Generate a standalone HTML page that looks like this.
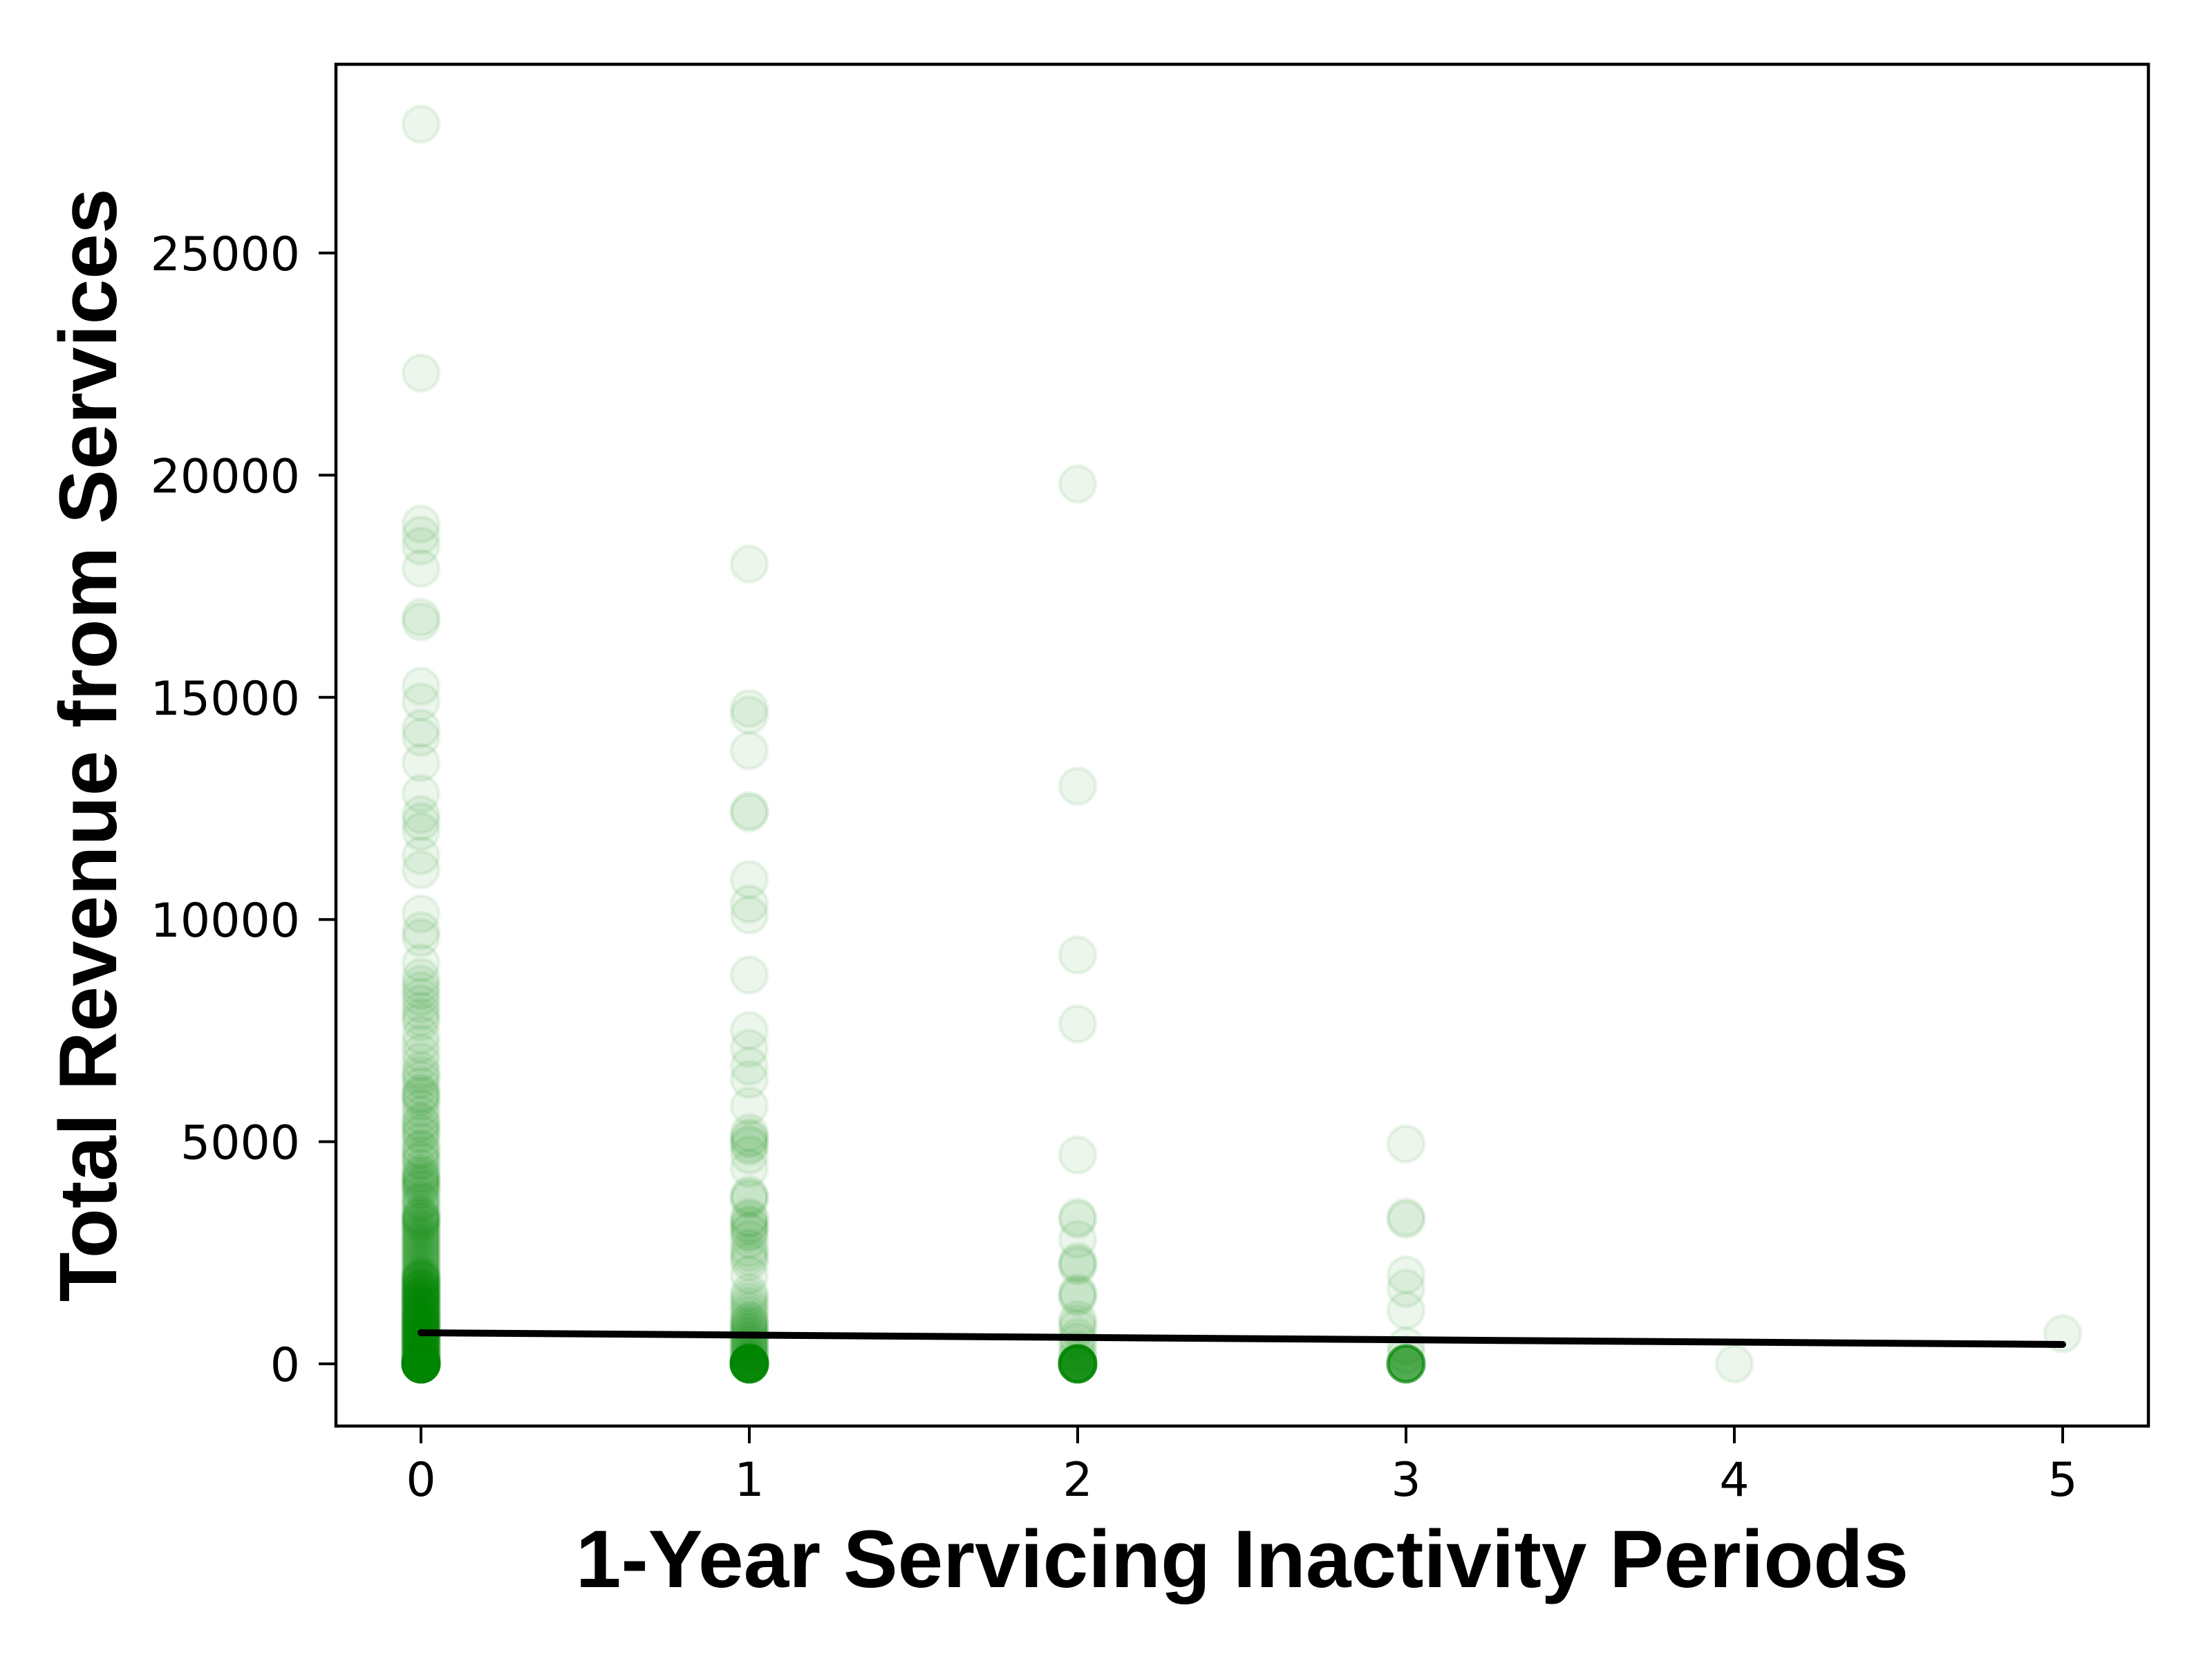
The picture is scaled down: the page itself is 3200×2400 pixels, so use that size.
<!DOCTYPE html>
<html><head><meta charset="utf-8"><style>
html,body{margin:0;padding:0;background:#fff;}
svg{display:block;}
</style></head><body>
<svg id="chart" width="3200" height="2400" viewBox="0 0 3200 2400" xmlns="http://www.w3.org/2000/svg">
<rect width="3200" height="2400" fill="#fff"/>
<g id="points"></g>
<g id="fit"></g>
<rect x="486" y="93" width="2622" height="1970" fill="none" stroke="#000" stroke-width="4.5"/>
<g id="xticks"></g>
<g id="yticks"></g>
<text x="1797" y="2296" text-anchor="middle" font-family="Liberation Sans, sans-serif" font-weight="bold" font-size="118">1-Year Servicing Inactivity Periods</text>
<text transform="translate(168,1078) rotate(-90)" text-anchor="middle" font-family="Liberation Sans, sans-serif" font-weight="bold" font-size="118">Total Revenue from Services</text>
</svg>
<script>
const xTicks = [0,1,2,3,4,5];
const yTicks = [0,5000,10000,15000,20000,25000];
const col0 = [27900,22300,18900,18650,18400,17900,16800,16700,15250,14900,14300,14100,13530,12830,12360,12200,11980,11440,11120,10130,9750,9590,9020,8700,8540,8400,8260,8100,7940,7800,7690,7400,7200,6990,6800,6600,6500,6400,6250,6100,6050,6000,5900,5750,5600,5450,5300,5150,5000,4850,4700,4550,4400,4250,4150,4100,4050,4000,3950,3800,3650,3500,3350,3300,3250,3200,3150,3100,3050,2950,2850,2700,2600,2500,2400,2300,2200,2100,2000,1950,1900,1850,1800,1750,1700,1650,1600,1550,1500,1450,1400,1350,1300,1250,1200,1150,1100,1050,1000,950,900,850,800,750,700,650,600,550,500,450,400,350,300,250,200,150,100,60,30,
5400,5200,4800,4600,4300,4200,3900,3700,3600,3400,3300,3200,3000,2900,2800,2750,2650,2550,2450,2350,2250,2150,2050,1980,1920,1880,1820,1720,1680,1620,1580,1520,1480,1420,1380,1320,1280,1220,1180,1120,1080,1020,980,920,880,820,780,720,680,620,580,520,480,420,380,320,280,220,180,120,80,50,20,
1900,1700,1500,1300,1100,1000,900,800,700,600,500,400,300,200,100,
0,0,0,0,0,0,0,0,0,0,0,0,0,0,0,0,0,0,0,0,0,0,0,0,0,0,0,0,0,0,0,0,0,0,0,0,0,0,0,0];
const col1 = [18000,14750,14600,13800,12450,12400,10900,10350,10100,8750,7500,7100,6700,6400,5800,5200,5050,4900,4700,4400,3800,3700,3300,3150,3000,2800,2500,2300,2000,1600,1500,1300,1100,900,800,700,600,500,400,300,200,100,50,
5100,4950,3750,3250,3100,2950,2600,2400,1400,1200,1000,950,850,750,650,550,450,350,250,150,80,30,
0,0,0,0,0,0,0,0,0,0,0,0,0,0,0,0,0,0,0,0,0,0,0,0,0,0,0,0,0,0];
const col2 = [19800,13000,9200,7650,4700,3300,3250,2800,2300,2200,1600,1500,1000,900,600,300,100,1550,2250,800,500,200,0,0,0,0,0,0,0,0,0,0,0,0,0,0,0,0,0,0,0,0,0,0,0,0,0];
const col3 = [4950,3300,3250,2000,1700,1200,400,200,0,0,0,0,0,0,0,0,0,0,0,0,0,0];
const col4 = [0];
const col5 = [680];
const columns = [col0,col1,col2,col3,col4,col5];
const fitX = [0,5];
const fitY = [700,436];

const NS = 'http://www.w3.org/2000/svg';
const X0 = 609, XU = 475;
const Y0 = 1973, YU = 321.4/5000;
function sx(v){ return X0 + v*XU; }
function sy(v){ return Y0 - v*YU; }

const pts = document.getElementById('points');
columns.forEach((col, i) => {
  col.forEach(v => {
    const c = document.createElementNS(NS,'circle');
    c.setAttribute('cx', sx(i));
    c.setAttribute('cy', sy(v));
    c.setAttribute('r', 26);
    c.setAttribute('fill', 'rgba(0,128,0,0.075)');
    c.setAttribute('stroke', 'rgba(0,128,0,0.075)');
    c.setAttribute('stroke-width', 5);
    
    
    pts.appendChild(c);
  });
});

const fit = document.getElementById('fit');
const ln = document.createElementNS(NS,'line');
ln.setAttribute('x1', sx(fitX[0])); ln.setAttribute('y1', sy(fitY[0]));
ln.setAttribute('x2', sx(fitX[1])); ln.setAttribute('y2', sy(fitY[1]));
ln.setAttribute('stroke', '#000'); ln.setAttribute('stroke-width', 10);
ln.setAttribute('stroke-linecap', 'round');


fit.appendChild(ln);

const xt = document.getElementById('xticks');
xTicks.forEach(t => {
  const l = document.createElementNS(NS,'line');
  l.setAttribute('x1', sx(t)); l.setAttribute('x2', sx(t));
  l.setAttribute('y1', 2063); l.setAttribute('y2', 2088);
  l.setAttribute('stroke', '#000'); l.setAttribute('stroke-width', 4);
  
  
  xt.appendChild(l);
  const tx = document.createElementNS(NS,'text');
  tx.setAttribute('x', sx(t)); tx.setAttribute('y', 2164);
  tx.setAttribute('text-anchor', 'middle');
  tx.setAttribute('font-family', 'DejaVu Sans, sans-serif');
  tx.setAttribute('font-size', 68);
  tx.textContent = String(t);
  
  
  xt.appendChild(tx);
});

const yt = document.getElementById('yticks');
yTicks.forEach(t => {
  const l = document.createElementNS(NS,'line');
  l.setAttribute('x1', 461); l.setAttribute('x2', 486);
  l.setAttribute('y1', sy(t)); l.setAttribute('y2', sy(t));
  l.setAttribute('stroke', '#000'); l.setAttribute('stroke-width', 4);
  
  
  yt.appendChild(l);
  const tx = document.createElementNS(NS,'text');
  tx.setAttribute('x', 434); tx.setAttribute('y', sy(t) + 25);
  tx.setAttribute('text-anchor', 'end');
  tx.setAttribute('font-family', 'DejaVu Sans, sans-serif');
  tx.setAttribute('font-size', 68);
  tx.textContent = String(t);
  
  
  yt.appendChild(tx);
});
</script>
</body></html>
